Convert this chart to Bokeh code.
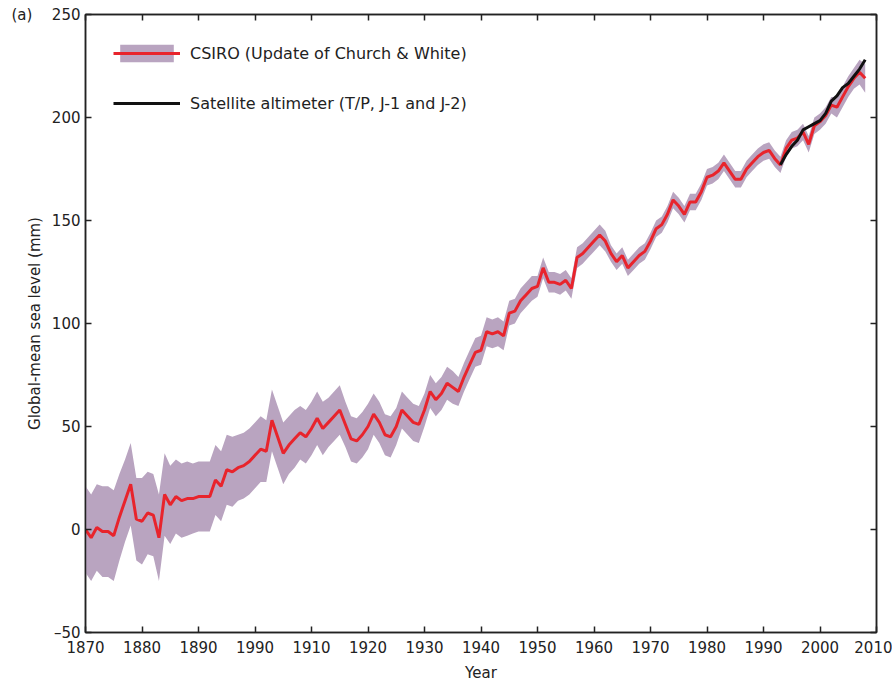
from bokeh.plotting import figure
from bokeh.models import (Range1d, FixedTicker, LinearAxis, Legend, LegendItem,
                          Label, ColumnDataSource)
from bokeh.embed import file_html
from bokeh.resources import INLINE

# --- data -------------------------------------------------------------------
years = list(range(1870, 2009))

# CSIRO reconstruction of global-mean sea level (mm)
csiro = [
    0, -4, 1, -1, -1, -3, 6, 14, 22, 5,            # 1870s
    4, 8, 7, -4, 17, 12, 16, 14, 15, 15,           # 1880s
    16, 16, 16, 24, 21, 29, 28, 30, 31, 33,        # 1890s
    36, 39, 38, 53, 45, 37, 41, 44, 47, 45,        # 1900s
    49, 54, 49, 52, 55, 58, 51, 44, 43, 46,        # 1910s
    50, 56, 52, 46, 45, 50, 58, 55, 52, 51,        # 1920s
    58, 67, 63, 66, 71, 69, 67, 74, 80, 86,        # 1930s
    87, 96, 95, 96, 94, 105, 106, 111, 114, 117,   # 1940s
    118, 127, 120, 120, 119, 121, 117, 132, 134, 137,  # 1950s
    140, 143, 140, 134, 130, 133, 127, 130, 133, 135,  # 1960s
    140, 146, 148, 153, 160, 157, 153, 159, 159, 164,  # 1970s
    171, 172, 174, 178, 174, 170, 170, 175, 178, 181,  # 1980s
    183, 184, 180, 177, 185, 189, 190, 193, 187, 196,  # 1990s
    198, 201, 206, 205, 210, 215, 219, 222, 219,       # 2000s
]

# one-sigma uncertainty of the reconstruction (mm)
csiro_err = [
    21, 21, 21, 22, 22, 22, 21, 20, 20, 20,
    21, 20, 20, 21, 20, 19, 18, 18, 18, 17,
    17, 17, 17, 17, 17, 17, 17, 16, 16, 16,
    16, 16, 15, 15, 15, 15, 14, 14, 13, 13,
    13, 13, 13, 12, 12, 12, 11, 11, 11, 11,
    11, 10, 10, 10, 10, 9, 9, 9, 9, 9,
    8, 8, 8, 8, 8, 8, 7, 7, 7, 7,
    7, 7, 7, 7, 7, 6, 6, 6, 6, 6,
    5, 5, 5, 5, 5, 5, 5, 5, 5, 5,
    5, 5, 5, 4, 4, 4, 4, 4, 4, 4,
    4, 4, 4, 4, 4, 4, 4, 4, 4, 4,
    4, 4, 4, 4, 4, 4, 4, 4, 4, 4,
    4, 4, 4, 4, 4, 4, 4, 4, 4, 4,
    4, 4, 4, 5, 5, 5, 5, 6, 7,
]

# satellite altimetry (T/P, Jason-1, Jason-2)
sat_years = list(range(1993, 2009))
sat = [177, 182, 186, 189, 194, 195.5, 197, 198.5, 202, 208,
       210.5, 214.5, 216.5, 220, 223.5, 228]

x_ticks = [1870, 1880, 1890, 1900, 1910, 1920, 1930, 1940, 1950, 1960,
           1970, 1980, 1990, 2000, 2010]
x_tick_labels = ["1870", "1880", "1890", "1990", "1910", "1920", "1930", "1940",
                 "1950", "1960", "1970", "1980", "1990", "2000", "2010"]
y_ticks = [-50, 0, 50, 100, 150, 200, 250]
y_tick_labels = ["\u201350", "0", "50", "100", "150", "200", "250"]

# --- styling ------------------------------------------------------------------
FONT = "DejaVu Sans"
AXIS_COLOR = "#222222"
TEXT_COLOR = "#222222"
BAND_COLOR = "#b9a4c0"
RED = "#e8242c"

src = ColumnDataSource(dict(
    year=years,
    level=csiro,
    upper=[v + e for v, e in zip(csiro, csiro_err)],
    lower=[v - e for v, e in zip(csiro, csiro_err)],
))
sat_src = ColumnDataSource(dict(year=sat_years, level=sat))

p = figure(width=892, height=684, output_backend="svg", toolbar_location=None,
           x_range=Range1d(1870, 2010), y_range=Range1d(-50, 250),
           min_border_left=85, min_border_right=16, min_border_top=14,
           min_border_bottom=52, x_axis_label="Year",
           y_axis_label="Global-mean sea level (mm)")
p.grid.visible = False
p.background_fill_color = "white"
p.border_fill_color = "white"
p.outline_line_color = AXIS_COLOR
p.outline_line_width = 1.5

band = p.varea(x="year", y1="lower", y2="upper", source=src,
               fill_color=BAND_COLOR, fill_alpha=1.0)
red = p.line(x="year", y="level", source=src, line_color=RED, line_width=3)
black = p.line(x="year", y="level", source=sat_src, line_color="#111111",
               line_width=3)


def style_axis(ax, ticks, labels):
    ax.ticker = FixedTicker(ticks=ticks)
    ax.major_label_overrides = {t: l for t, l in zip(ticks, labels)}
    ax.axis_line_color = AXIS_COLOR
    ax.axis_line_width = 1.5
    ax.major_tick_line_color = AXIS_COLOR
    ax.major_tick_line_width = 1.5
    ax.major_tick_in = 6
    ax.major_tick_out = 0
    ax.minor_tick_line_color = None
    ax.major_label_text_font = FONT
    ax.major_label_text_font_size = "15px"
    ax.major_label_text_color = TEXT_COLOR
    ax.axis_label_text_font = FONT
    ax.axis_label_text_font_size = "15px"
    ax.axis_label_text_font_style = "normal"
    ax.axis_label_text_color = TEXT_COLOR


style_axis(p.xaxis[0], x_ticks, x_tick_labels)
style_axis(p.yaxis[0], y_ticks, y_tick_labels)
p.xaxis[0].major_label_standoff = 8
p.xaxis[0].axis_label_standoff = 8
p.yaxis[0].major_label_standoff = 5
p.yaxis[0].axis_label_standoff = 5

# mirrored tick marks on the top and right edges
top = LinearAxis()
style_axis(top, x_ticks, [""] * len(x_ticks))
right = LinearAxis()
style_axis(right, y_ticks, [""] * len(y_ticks))
p.add_layout(top, "above")
p.add_layout(right, "right")

legend = Legend(items=[
    LegendItem(label="CSIRO (Update of Church & White)", renderers=[band, red]),
    LegendItem(label="Satellite altimeter (T/P, J-1 and J-2)", renderers=[black]),
], location=(28, 518))
legend.glyph_width = 67
legend.glyph_height = 22
legend.spacing = 28
legend.padding = 0
legend.margin = 0
legend.label_standoff = 10
legend.label_text_font = FONT
legend.label_text_font_size = "16px"
legend.label_text_color = TEXT_COLOR
legend.border_line_color = None
legend.background_fill_alpha = 0
p.add_layout(legend)

# panel tag in the top-left corner, placed in the left margin panel
p.add_layout(Label(x=10, y=618, x_units="screen", y_units="screen",
                   text="(a)", text_font=FONT, text_font_size="15px",
                   text_color=TEXT_COLOR, text_baseline="middle"), "left")

open("out.html", "w").write(file_html(p, INLINE))
